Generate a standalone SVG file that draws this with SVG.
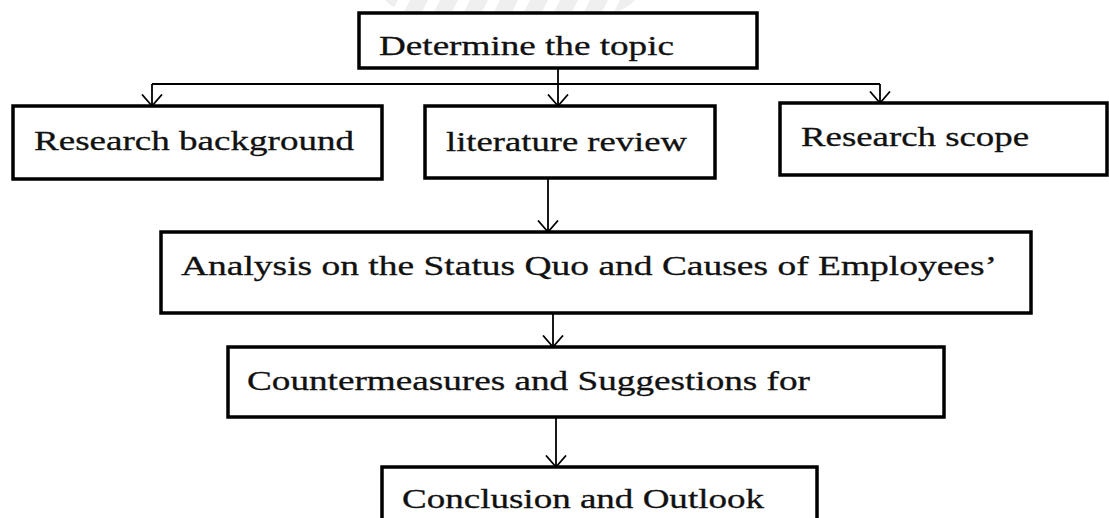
<svg xmlns="http://www.w3.org/2000/svg" width="1109" height="518" viewBox="0 0 1109 518">
<style>
.box{fill:#fff;stroke:#000;stroke-width:3.5}
.lbl{font-family:"Liberation Serif","Times New Roman",serif;font-size:27px;fill:#111;stroke:#111;stroke-width:0.3}
.con{fill:none;stroke:#000;stroke-width:1.8}
</style>
<defs>
<marker id="arr" viewBox="0 0 14 22" refX="12.5" refY="11" markerWidth="14" markerHeight="22" markerUnits="userSpaceOnUse" orient="auto">
<path d="M1,1 L12.5,11 L1,21" fill="none" stroke="#000" stroke-width="1.8"/>
</marker>
<clipPath id="wm"><path d="M385,0 L635,0 Q615,24 510,26 Q405,24 385,0 Z"/></clipPath>
</defs>
<rect width="1109" height="518" fill="#fff"/>
<g id="watermark" clip-path="url(#wm)" fill="#efefef">
<polygon points="380,0 398,0 383,30 365,30"/>
<polygon points="410,0 428,0 413,30 395,30"/>
<polygon points="440,0 458,0 443,30 425,30"/>
<polygon points="470,0 488,0 473,30 455,30"/>
<polygon points="500,0 518,0 503,30 485,30"/>
<polygon points="530,0 548,0 533,30 515,30"/>
<polygon points="560,0 578,0 563,30 545,30"/>
<polygon points="590,0 608,0 593,30 575,30"/>
<polygon points="620,0 638,0 623,30 605,30"/>
</g>
<g id="connectors">
<path class="con" d="M558,68 L558,106" marker-end="url(#arr)"/>
<path class="con" d="M152,84 L880,84"/>
<path class="con" d="M152,84 L152,106" marker-end="url(#arr)"/>
<path class="con" d="M880,84 L880,103" marker-end="url(#arr)"/>
<path class="con" d="M548,178 L548,232" marker-end="url(#arr)"/>
<path class="con" d="M553,313 L553,347" marker-end="url(#arr)"/>
<path class="con" d="M556,417 L556,467" marker-end="url(#arr)"/>
</g>
<g id="n-topic">
<rect class="box" x="359" y="13" width="398" height="55"/>
<text class="lbl" x="379" y="55" textLength="295" lengthAdjust="spacingAndGlyphs">Determine the topic</text>
</g>
<g id="n-background">
<rect class="box" x="13" y="106" width="369" height="73"/>
<text class="lbl" x="34" y="150" textLength="320" lengthAdjust="spacingAndGlyphs">Research background</text>
</g>
<g id="n-literature">
<rect class="box" x="425" y="106" width="290" height="72"/>
<text class="lbl" x="446" y="151" textLength="241" lengthAdjust="spacingAndGlyphs">literature review</text>
</g>
<g id="n-scope">
<rect class="box" x="780" y="103" width="327" height="72"/>
<text class="lbl" x="801" y="146" textLength="228" lengthAdjust="spacingAndGlyphs">Research scope</text>
</g>
<g id="n-analysis">
<rect class="box" x="161" y="232" width="870" height="81"/>
<text class="lbl" x="181" y="275" textLength="816" lengthAdjust="spacingAndGlyphs">Analysis on the Status Quo and Causes of Employees’</text>
</g>
<g id="n-counter">
<rect class="box" x="228" y="347" width="716" height="70"/>
<text class="lbl" x="247" y="390" textLength="563" lengthAdjust="spacingAndGlyphs">Countermeasures and Suggestions for</text>
</g>
<g id="n-conclusion">
<rect class="box" x="382" y="467" width="435" height="70"/>
<text class="lbl" x="402" y="508" textLength="362" lengthAdjust="spacingAndGlyphs">Conclusion and Outlook</text>
</g>
</svg>
